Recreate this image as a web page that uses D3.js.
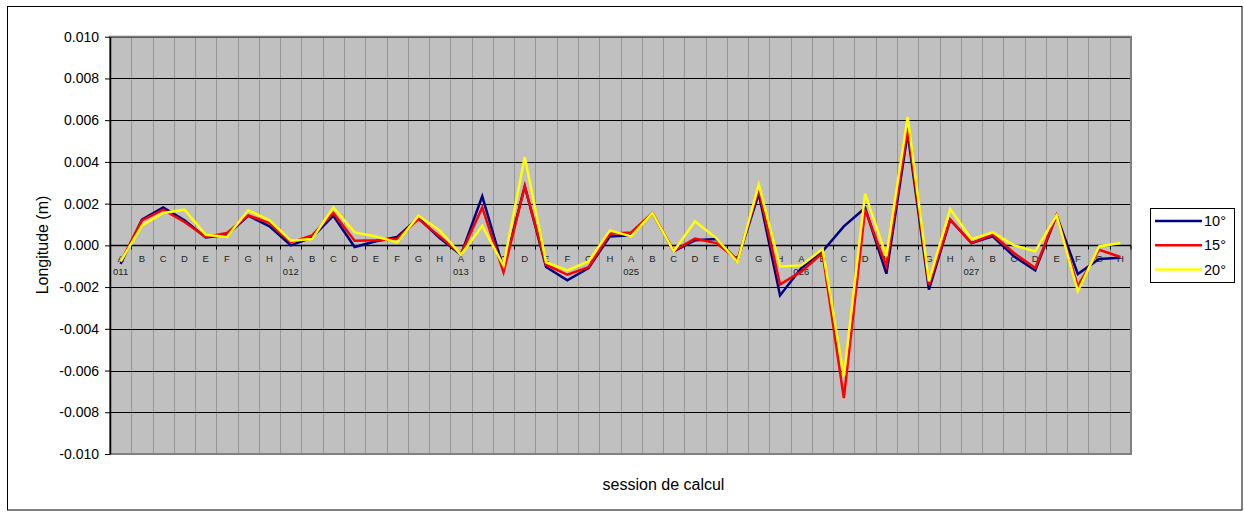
<!DOCTYPE html>
<html>
<head>
<meta charset="utf-8">
<script src="https://cdn.jsdelivr.net/npm/d3@7"></script>
<style>
  body { margin: 0; background: #fff; }
  text { font-family: "Liberation Sans", Arial, sans-serif; }
</style>
</head>
<body>
<script>
// sessions and sub-sessions
const groups = ["011", "012", "013", "025", "026", "027"];
const letters = ["A", "B", "C", "D", "E", "F", "G", "H"];
const categories = groups.flatMap(g => letters.map(l => g + "-" + l));

// longitude differences (m)
const s10 = [
  -0.00089, 0.00123, 0.00182, 0.00120, 0.00038, 0.00051, 0.00142, 0.00091,
   0.00000, 0.00038, 0.00142, -0.00008, 0.00020, 0.00040, 0.00131, 0.00035,
  -0.00045, 0.00235, -0.00113, 0.00283, -0.00104, -0.00168, -0.00109, 0.00043,
   0.00048, 0.00155, -0.00029, 0.00024, 0.00030, -0.00072, 0.00248, -0.00240,
  -0.00109, -0.00029, 0.00091, 0.00179, -0.00136, 0.00538, -0.00212, 0.00123,
   0.00011, 0.00043, -0.00053, -0.00120, 0.00144, -0.00137, -0.00065, -0.00060
];
const s15 = [
  -0.00080, 0.00120, 0.00171, 0.00112, 0.00040, 0.00059, 0.00144, 0.00107,
   0.00014, 0.00048, 0.00155, 0.00022, 0.00025, 0.00032, 0.00126, 0.00043,
  -0.00042, 0.00182, -0.00129, 0.00283, -0.00093, -0.00141, -0.00105, 0.00056,
   0.00062, 0.00155, -0.00026, 0.00032, 0.00011, -0.00069, 0.00267, -0.00188,
  -0.00125, -0.00037, -0.00732, 0.00171, -0.00100, 0.00562, -0.00189, 0.00123,
   0.00011, 0.00051, -0.00037, -0.00109, 0.00144, -0.00196, -0.00021, -0.00056
];
const s20 = [
  -0.00077, 0.00094, 0.00155, 0.00171, 0.00051, 0.00040, 0.00168, 0.00120,
   0.00022, 0.00030, 0.00182, 0.00062, 0.00042, 0.00014, 0.00142, 0.00072,
  -0.00045, 0.00094, -0.00097, 0.00423, -0.00081, -0.00120, -0.00077, 0.00072,
   0.00043, 0.00155, -0.00029, 0.00115, 0.00035, -0.00080, 0.00291, -0.00101,
  -0.00096, -0.00018, -0.00628, 0.00248, -0.00053, 0.00615, -0.00173, 0.00174,
   0.00030, 0.00062, 0.00000, -0.00029, 0.00144, -0.00220, -0.00005, 0.00011
];
const seriesNames = ["10°", "15°", "20°"];
const seriesColors = ["#000080", "#ff0000", "#ffff00"];
const yTicks = [0.010, 0.008, 0.006, 0.004, 0.002, 0, -0.002, -0.004, -0.006, -0.008, -0.010];

const width = 1244, height = 513;
const plot = {left: 110, right: 1131, top: 36.7, bottom: 454};

const svg = d3.select("body").append("svg")
    .attr("width", width)
    .attr("height", height);

// outer chart border
svg.append("rect")
    .attr("x", 7.5).attr("y", 6.5)
    .attr("width", 1234.5).attr("height", 503.5)
    .attr("fill", "#fff")
    .attr("stroke", "#000")
    .attr("stroke-width", 1);

const xscale = d3.scaleBand()
    .domain(categories)
    .range([plot.left, plot.right])
    .padding(0);
const yscale = d3.scaleLinear()
    .domain([-0.010, 0.010])
    .range([plot.bottom, plot.top]);

// plot area
svg.append("rect")
    .attr("x", plot.left).attr("y", plot.top)
    .attr("width", plot.right - plot.left).attr("height", plot.bottom - plot.top)
    .attr("fill", "#c0c0c0");

// vertical grid lines between categories
svg.append("g")
    .selectAll("line")
    .data(categories.slice(1))
    .join("line")
    .attr("x1", d => Math.round(xscale(d)) + 0.5)
    .attr("x2", d => Math.round(xscale(d)) + 0.5)
    .attr("y1", plot.top).attr("y2", plot.bottom)
    .attr("stroke", "#969696")
    .attr("stroke-width", 1);

// horizontal grid lines
svg.append("g")
    .selectAll("line")
    .data(yTicks)
    .join("line")
    .attr("x1", plot.left).attr("x2", plot.right)
    .attr("y1", d => Math.round(yscale(d)) + 0.5)
    .attr("y2", d => Math.round(yscale(d)) + 0.5)
    .attr("stroke", "#000")
    .attr("stroke-width", 1);

// plot border
svg.append("rect")
    .attr("x", plot.left).attr("y", plot.top)
    .attr("width", plot.right - plot.left).attr("height", plot.bottom - plot.top)
    .attr("fill", "none")
    .attr("stroke", "#808080")
    .attr("stroke-width", 2);

// y axis
const yAxis = svg.append("g")
    .attr("transform", "translate(" + plot.left + ",0)")
    .call(d3.axisLeft(yscale).tickValues(yTicks).tickSize(5).tickSizeOuter(0)
        .tickFormat(d => d.toFixed(3)));
yAxis.select(".domain").attr("stroke", "#000").attr("stroke-width", 1.5);
yAxis.selectAll(".tick line").attr("stroke", "#000");
yAxis.selectAll(".tick text")
    .attr("font-family", "Liberation Sans, Arial, sans-serif")
    .attr("font-size", 14)
    .attr("fill", "#000")
    .attr("x", -11);

// category axis at zero
const y0 = Math.round(yscale(0)) + 0.5;
svg.append("line")
    .attr("x1", plot.left).attr("x2", plot.right)
    .attr("y1", y0).attr("y2", y0)
    .attr("stroke", "#000").attr("stroke-width", 1.5);
svg.append("g")
    .selectAll("line")
    .data(categories.slice(1).concat(["end"]))
    .join("line")
    .attr("x1", d => d === "end" ? plot.right : Math.round(xscale(d)) + 0.5)
    .attr("x2", d => d === "end" ? plot.right : Math.round(xscale(d)) + 0.5)
    .attr("y1", y0).attr("y2", y0 + 4)
    .attr("stroke", "#000");

const bw = xscale.bandwidth();
svg.append("g")
    .selectAll("text")
    .data(categories)
    .join("text")
    .attr("x", d => xscale(d) + bw / 2)
    .attr("y", y0 + 16.5)
    .attr("text-anchor", "middle")
    .attr("font-size", 9.5)
    .attr("fill", "#222")
    .text(d => d.split("-")[1]);
svg.append("g")
    .selectAll("text")
    .data(groups)
    .join("text")
    .attr("x", d => xscale(d + "-A") + bw / 2)
    .attr("y", y0 + 29.5)
    .attr("text-anchor", "middle")
    .attr("font-size", 9.5)
    .attr("fill", "#222")
    .text(d => d);

// series lines
const line = d3.line()
    .x((d, i) => xscale(categories[i]) + bw / 2)
    .y(d => yscale(d));
[s10, s15, s20].forEach((s, k) => {
    svg.append("path")
        .datum(s)
        .attr("d", line)
        .attr("fill", "none")
        .attr("stroke", seriesColors[k])
        .attr("stroke-width", 2.5)
        .attr("stroke-linejoin", "miter");
});

// axis titles
svg.append("text")
    .attr("transform", "translate(48,245) rotate(-90)")
    .attr("text-anchor", "middle")
    .attr("font-size", 16)
    .text("Longitude (m)");
svg.append("text")
    .attr("x", 663.5)
    .attr("y", 490)
    .attr("text-anchor", "middle")
    .attr("font-size", 16)
    .text("session de calcul");

// legend
const legend = svg.append("g");
legend.append("rect")
    .attr("x", 1150.5).attr("y", 208.5)
    .attr("width", 84).attr("height", 74)
    .attr("fill", "#fff")
    .attr("stroke", "#000");
seriesNames.forEach((name, k) => {
    const ly = 221 + k * 24.3;
    legend.append("line")
        .attr("x1", 1155).attr("x2", 1202)
        .attr("y1", ly).attr("y2", ly)
        .attr("stroke", seriesColors[k])
        .attr("stroke-width", 2.5);
    legend.append("text")
        .attr("x", 1204)
        .attr("y", ly + 5)
        .attr("font-size", 14.5)
        .text(name);
});
</script>
</body>
</html>
